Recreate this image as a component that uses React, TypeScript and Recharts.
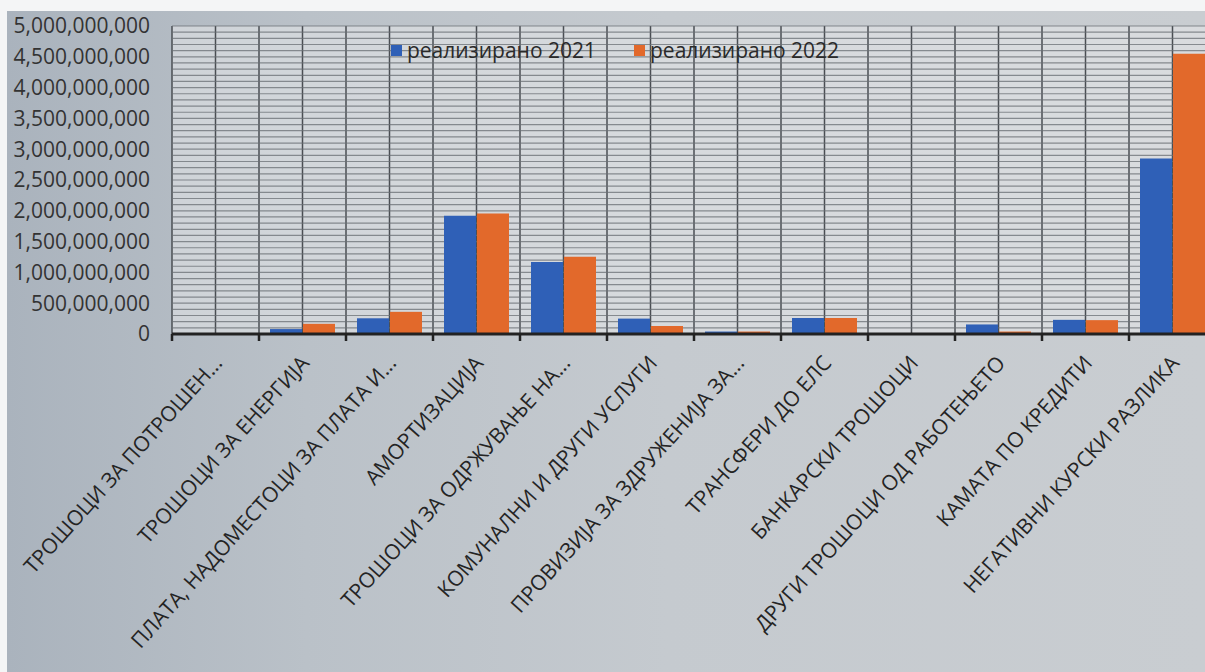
import React from "react";
import { BarChart, Bar, XAxis, YAxis, CartesianGrid, Legend } from "recharts";

const categories = [
  "ТРОШОЦИ ЗА ПОТРОШЕН...",
  "ТРОШОЦИ ЗА ЕНЕРГИЈА",
  "ПЛАТА, НАДОМЕСТОЦИ ЗА ПЛАТА И...",
  "АМОРТИЗАЦИЈА",
  "ТРОШОЦИ ЗА ОДРЖУВАЊЕ НА...",
  "КОМУНАЛНИ И ДРУГИ УСЛУГИ",
  "ПРОВИЗИЈА ЗА ЗДРУЖЕНИЈА ЗА...",
  "ТРАНСФЕРИ ДО ЕЛС",
  "БАНКАРСКИ ТРОШОЦИ",
  "ДРУГИ ТРОШОЦИ ОД РАБОТЕЊЕТО",
  "КАМАТА ПО КРЕДИТИ",
  "НЕГАТИВНИ КУРСКИ РАЗЛИКА",
];

const realized2021 = [
  2000000, 80000000, 255000000, 1920000000, 1170000000, 250000000,
  40000000, 260000000, 3000000, 155000000, 230000000, 2850000000,
];

const realized2022 = [
  2000000, 165000000, 360000000, 1955000000, 1255000000, 130000000,
  40000000, 260000000, 2000000, 40000000, 225000000, 4550000000,
];

const yTicks = [
  0, 500000000, 1000000000, 1500000000, 2000000000, 2500000000, 3000000000,
  3500000000, 4000000000, 4500000000, 5000000000,
];

// minor gridlines every 100,000,000
const gridValues = Array.from({ length: 51 }, (_, i) => i * 100000000);

const data = categories.map((name, i) => ({
  name,
  r2021: realized2021[i],
  r2022: realized2022[i],
}));

const CHART_W = 1230;
const CHART_H = 672;
const MARGIN = { top: 26, right: 14, left: 0, bottom: 0 };
const Y_W = 172;
const PLOT_W = CHART_W - MARGIN.left - MARGIN.right - Y_W;
const BAND = PLOT_W / categories.length;

const FONT = "'Open Sans', 'Noto Sans', sans-serif";

const XTick = (props: any) => {
  const { x, y, payload } = props;
  const tx = x + 8;
  const ty = y + 30;
  return (
    <g>
      <line x1={x - BAND / 2} x2={x - BAND / 2} y1={y} y2={y + 7} stroke="#222" strokeWidth={2.5} />
      <text
        x={tx}
        y={ty}
        textAnchor="end"
        transform={`rotate(-48 ${tx} ${ty})`}
        fontSize={21}
        fill="#242424"
        fontFamily={FONT}
      >
        {payload.value}
      </text>
    </g>
  );
};

const LegendContent = (props: any) => {
  const { payload } = props;
  return (
    <div style={{ display: "flex", justifyContent: "center", gap: 38, fontFamily: FONT }}>
      {payload.map((p: any) => (
        <div key={p.value} style={{ display: "flex", alignItems: "center" }}>
          <span style={{ width: 11, height: 11, background: p.color, display: "inline-block", marginRight: 5 }} />
          <span style={{ fontSize: 21, color: "#2a2a2a" }}>{p.value}</span>
        </div>
      ))}
    </div>
  );
};

export default function App() {
  return (
    <div
      style={{
        position: "fixed",
        left: 0,
        top: 0,
        width: 1205,
        height: 672,
        overflow: "hidden",
        background: "#f4f5f6",
      }}
    >
      <div
        style={{
          position: "absolute",
          left: 7,
          top: 11,
          right: 0,
          bottom: 0,
          background: "linear-gradient(to right, #aab3bd 0%, #bac1c8 25%, #c5cacf 55%, #c9cdd1 100%)",
        }}
      />
      <div style={{ position: "absolute", left: 0, top: 0 }}>
        <BarChart
          width={CHART_W}
          height={CHART_H}
          data={data}
          margin={MARGIN}
          barCategoryGap={11}
          barGap={1}
        >
          <CartesianGrid
            horizontal={false}
            vertical={true}
            fill="#e6e8ea"
            fillOpacity={0.55}
            stroke="#4a4e53"
            strokeWidth={1.5}
            verticalCoordinatesGenerator={({ offset }: any) =>
              Array.from({ length: categories.length * 2 + 1 }, (_, i) => offset.left + (i * offset.width) / (categories.length * 2))
            }
          />
          <CartesianGrid
            vertical={false}
            horizontalValues={gridValues}
            stroke="#6a6f74"
            strokeWidth={1.2}
            strokeOpacity={0.75}
          />
          <XAxis
            dataKey="name"
            interval={0}
            height={CHART_H - 334}
            tickLine={false}
            tickSize={0}
            tickMargin={0}
            axisLine={{ stroke: "#222", strokeWidth: 3 }}
            tick={<XTick />}
          />
          <YAxis
            width={Y_W}
            domain={[0, 5000000000]}
            ticks={yTicks}
            interval={0}
            axisLine={false}
            tickLine={false}
            tickSize={0}
            tickMargin={22}
            tick={{ fontSize: 21, fill: "#333", fontFamily: FONT }}
            tickFormatter={(v: number) => v.toLocaleString("en-US")}
          />
          <Legend
            verticalAlign="middle"
            align="center"
            layout="horizontal"
            wrapperStyle={{ top: 36, left: 0, width: CHART_W }}
            content={<LegendContent />}
          />
          <Bar dataKey="r2021" name="реализирано 2021" fill="#2f60b7" isAnimationActive={false} />
          <Bar dataKey="r2022" name="реализирано 2022" fill="#e2692b" isAnimationActive={false} />
        </BarChart>
      </div>
    </div>
  );
}
